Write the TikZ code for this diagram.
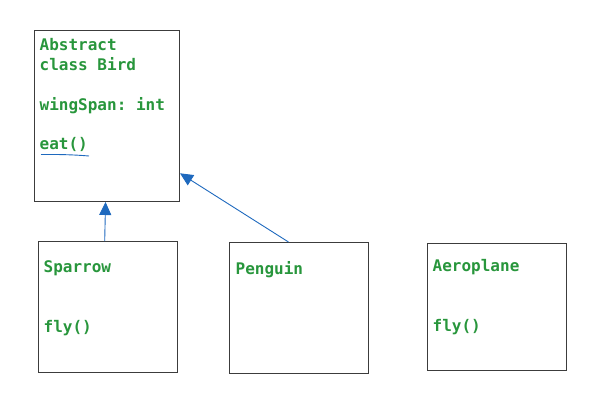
\documentclass[tikz,border=0pt]{standalone}
\usepackage{fontspec}
\setmonofont{DejaVu Sans Mono}
\usetikzlibrary{arrows.meta,calc}
\definecolor{txtgreen}{RGB}{40,150,60}
\definecolor{lineblue}{RGB}{30,105,190}
\definecolor{boxgray}{RGB}{60,60,60}
\tikzset{
  box/.style={draw=boxgray, line width=1pt, anchor=north west, inner sep=0pt},
  lbl/.style={anchor=base west, inner sep=0pt, text=txtgreen, font=\ttfamily\bfseries\fontsize{16}{20}\selectfont},
  inherit/.style={draw=lineblue, line width=0.9pt, -{Triangle[length=13pt,width=12pt,fill=lineblue]}}
}
\begin{document}
\begin{tikzpicture}[x=1pt,y=-1pt]
\useasboundingbox (0,0) rectangle (599,410);
% boxes
\node[box, minimum width=145pt, minimum height=171pt] (bird) at (34,30) {};
\node[box, minimum width=139pt, minimum height=131pt] (sparrow) at (37.5,241) {};
\node[box, minimum width=139pt, minimum height=131pt] (penguin) at (229,242) {};
\node[box, minimum width=139pt, minimum height=127pt] (aeroplane) at (427,242.5) {};
% labels
\node[lbl] (t1) at (39.5,50) {Abstract};
\node[lbl] (t2) at (39.5,70) {class Bird};
\node[lbl] (t3) at (39.5,110) {wingSpan: int};
\node[lbl] (t4) at (39.5,149) {eat()};
\node[lbl] (t5) at (43.5,272.5) {Sparrow};
\node[lbl] (t6) at (43.5,332.5) {fly()};
\node[lbl] (t7) at (235.5,274) {Penguin};
\node[lbl] (t8) at (432.5,271) {Aeroplane};
\node[lbl] (t9) at (432.5,331.5) {fly()};
% underline of eat()
\coordinate (u1) at (41,154.5);
\coordinate (u2) at (89,156);
\draw[lineblue, line width=0.9pt] (u1) .. controls (60,154.3) and (75,154.8) .. (u2);
% inheritance arrows
\draw[inherit] ($(sparrow.north west)!0.48!(sparrow.north east)$) -- ($(bird.south west)!0.49!(bird.south east)$);
\draw[inherit] ($(penguin.north west)!0.425!(penguin.north east)$) -- ($(bird.north east)!0.833!(bird.south east)$);
\end{tikzpicture}
\end{document}
